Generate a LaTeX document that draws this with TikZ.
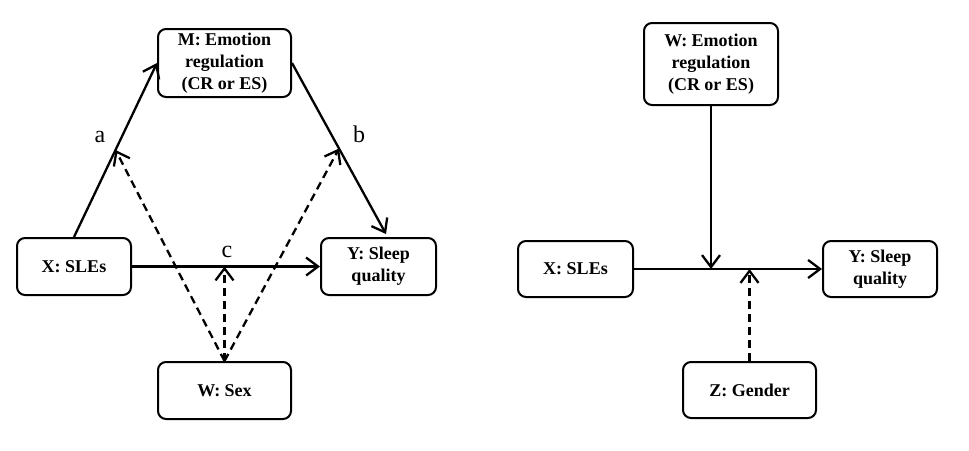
\documentclass[tikz,border=0pt]{standalone}
\usepackage{fontspec}
\setmainfont{Liberation Serif}
\usetikzlibrary{arrows.meta,calc}
\begin{document}
\begin{tikzpicture}[x=1pt,y=-1pt,
  box/.style={draw,line width=2pt,rounded corners=8pt,align=center,inner sep=0pt,
    font=\bfseries\fontsize{18}{22}\selectfont},
  conn/.style={line width=2.3pt,-{Straight Barb[length=12pt,width=18pt]}},
  dconn/.style={conn,dash pattern=on 8pt off 5pt},
  lab/.style={font=\fontsize{24}{26}\selectfont,inner sep=0pt}]
\useasboundingbox (0,0) rectangle (969,450);
% left panel
\node[box,minimum width=133pt,minimum height=68pt] (M) at (224.5,63) {M: Emotion\\regulation\\(CR or ES)};
\node[box,minimum width=114pt,minimum height=57pt] (X) at (74,266.5) {X: SLEs};
\node[box,minimum width=115pt,minimum height=57pt] (Y) at (378.5,266.5) {Y: Sleep\\quality};
\node[box,minimum width=133pt,minimum height=57pt] (W) at (224.5,390.5) {W: Sex};
\coordinate (Ytop) at ($(Y.north)+(7.5,-3)$);
\draw[conn] (X.north) -- (M.west);
\draw[conn] (M.east) -- (Ytop);
\draw[conn] (X.east) -- (Y.west);
\coordinate (pa) at ($(X.north)!0.5!(M.west)$);
\coordinate (pb) at ($(M.east)!0.5!(Ytop)$);
\coordinate (pc) at (W.north |- X.east);
\draw[dconn] (W.north) -- (pa);
\draw[dconn] (W.north) -- (pb);
\draw[dconn] (W.north) -- (pc);
\node[lab] (la) at (100,137) {a};
\node[lab] (lb) at (359,134) {b};
\node[lab] (lc) at (227,252) {c};
% right panel
\node[box,minimum width=134pt,minimum height=82pt] (W2) at (711,64) {W: Emotion\\regulation\\(CR or ES)};
\node[box,minimum width=115pt,minimum height=56pt] (X2) at (575.5,269) {X: SLEs};
\node[box,minimum width=114pt,minimum height=56pt] (Y2) at (880,269) {Y: Sleep\\quality};
\node[box,minimum width=133pt,minimum height=56pt] (Z2) at (749.5,390) {Z: Gender};
\draw[conn] (X2.east) -- (Y2.west);
\coordinate (pw) at (W2.south |- X2.east);
\coordinate (pz) at (Z2.north |- X2.east);
\draw[conn] (W2.south) -- (pw);
\draw[dconn] (Z2.north) -- (pz);
\end{tikzpicture}
\end{document}
